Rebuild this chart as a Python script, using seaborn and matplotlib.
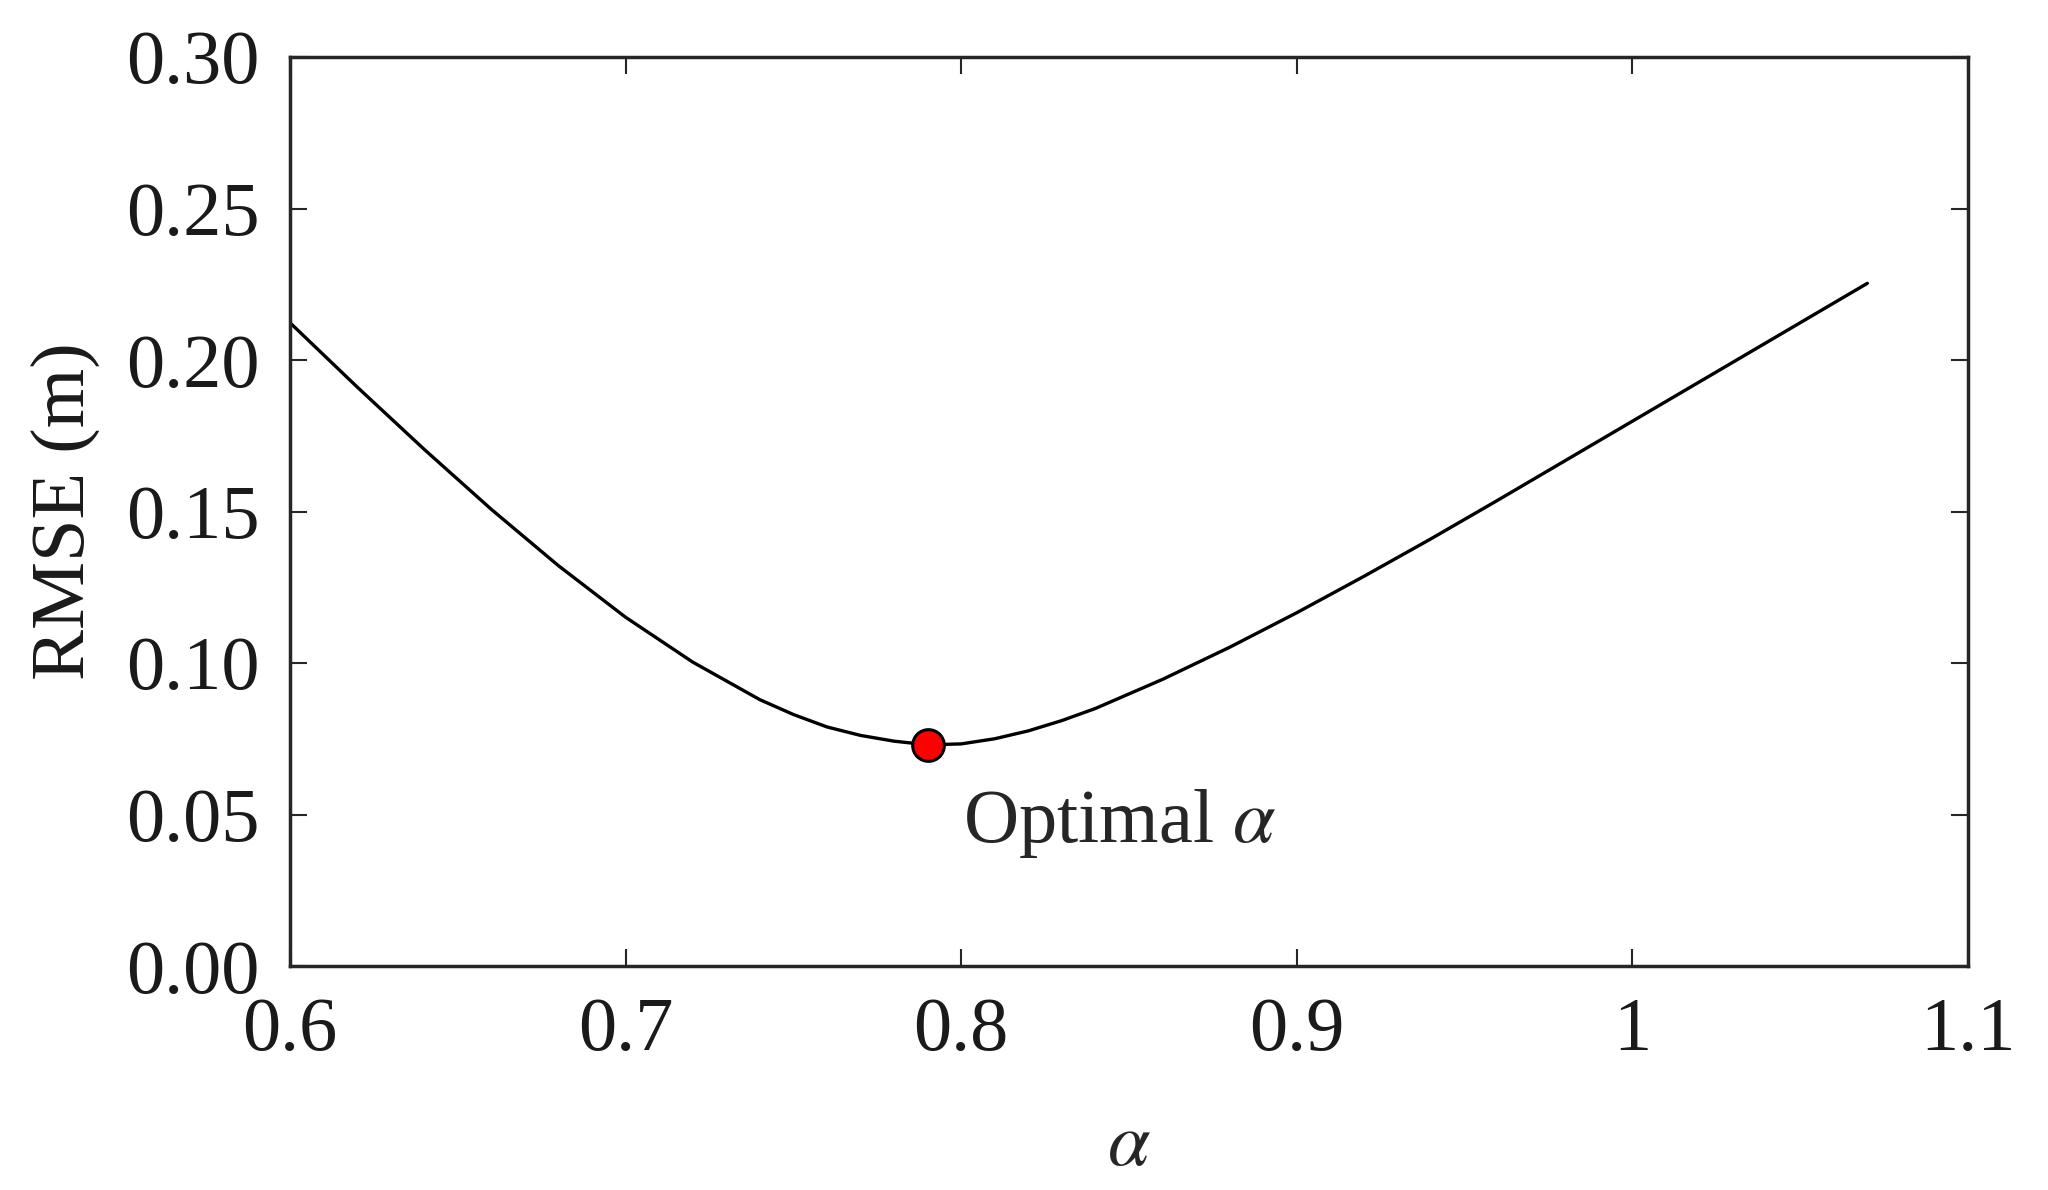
import matplotlib
matplotlib.use("Agg")
import matplotlib.pyplot as plt
import seaborn as sns

# RMSE vs alpha
alpha = [0.60, 0.62, 0.64, 0.66, 0.68, 0.70, 0.72, 0.74, 0.75, 0.76, 0.77, 0.78, 0.79,
         0.80, 0.81, 0.82, 0.83, 0.84, 0.86, 0.88, 0.90, 0.92, 0.94, 0.96, 0.98,
         1.00, 1.02, 1.04, 1.06, 1.07]
rmse = [0.2123, 0.1911, 0.1705, 0.1507, 0.1321, 0.1151, 0.1003, 0.0879, 0.0830, 0.0789, 0.0761, 0.0742, 0.0730,
        0.0733, 0.0750, 0.0776, 0.0810, 0.0850, 0.0946, 0.1052, 0.1166, 0.1286, 0.1410, 0.1538, 0.1668,
        0.1798, 0.1928, 0.2058, 0.2188, 0.2253]

opt_alpha = [0.79]
opt_rmse = [0.073]

xticks = [0.6, 0.7, 0.8, 0.9, 1.0, 1.1]
xticklabels = ["0.6", "0.7", "0.8", "0.9", "1", "1.1"]
yticks = [0.00, 0.05, 0.10, 0.15, 0.20, 0.25, 0.30]
yticklabels = ["0.00", "0.05", "0.10", "0.15", "0.20", "0.25", "0.30"]

sns.set_style("ticks", {"xtick.direction": "in", "ytick.direction": "in"})
plt.rcParams["font.family"] = ["Liberation Serif", "DejaVu Serif"]
plt.rcParams["mathtext.fontset"] = "stix"

edge = "#262626"
fs = 55

fig = plt.figure(figsize=(20.48, 11.9), dpi=100)
ax = fig.add_axes([290 / 2048, 1 - 966 / 1190, (1968 - 290) / 2048, (966 - 57) / 1190])

sns.lineplot(x=alpha, y=rmse, color="black", linewidth=2.4, ax=ax)
sns.scatterplot(x=opt_alpha, y=opt_rmse, color="red", s=520, edgecolor="black",
                linewidth=2.2, ax=ax, zorder=5)

ax.text(0.8005, 0.041, r"Optimal $\alpha$", fontsize=fs, va="baseline", ha="left")

ax.set_xlim(0.6, 1.1)
ax.set_ylim(0, 0.30)
ax.set_xticks(xticks)
ax.set_xticklabels(xticklabels)
ax.set_yticks(yticks)
ax.set_yticklabels(yticklabels)

ax.tick_params(axis="both", which="both", direction="in", length=12, width=1.5,
               color=edge, labelsize=fs, top=True, right=True, pad=22, labelcolor="#1a1a1a")

for s in ax.spines.values():
    s.set_visible(True)
    s.set_linewidth(2.5)
    s.set_color(edge)

ax.set_xlabel(r"$\alpha$", fontsize=fs, va="center")
ax.xaxis.set_label_coords(0.5, -0.199)
ax.set_ylabel("RMSE (m)", fontsize=fs, va="center", color="#1a1a1a")
ax.yaxis.set_label_coords(-0.134, 0.5)

fig.savefig("out.png", dpi=100, facecolor="white")
